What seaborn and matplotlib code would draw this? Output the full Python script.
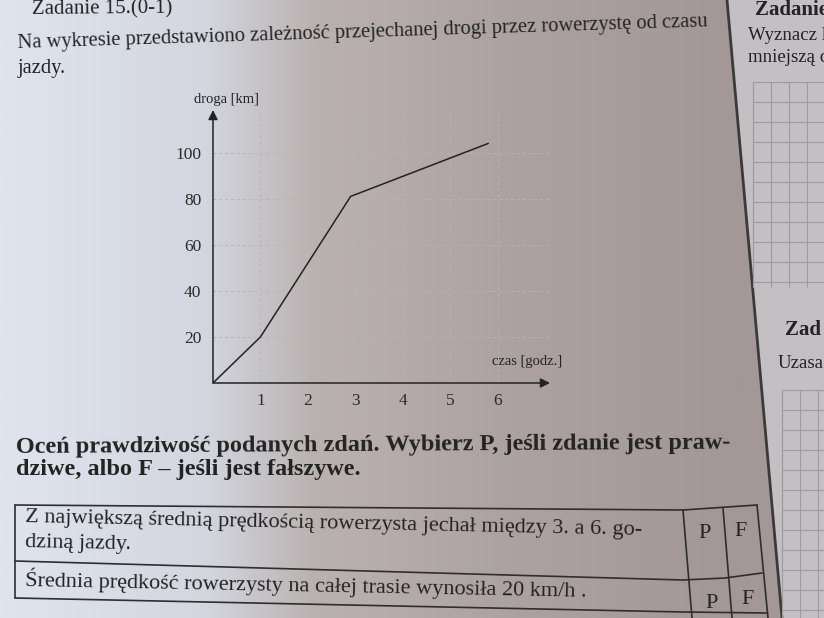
import numpy as np
import seaborn as sns
import matplotlib.pyplot as plt
from matplotlib.colors import LinearSegmentedColormap
from matplotlib.patches import Polygon

# values
czas = [0, 1, 2.9, 5.8]          # godz.
droga = [0, 20, 81, 104]         # km
x_ticks = [1, 2, 3, 4, 5, 6]
y_ticks = [20, 40, 60, 80, 100]

W, H = 824, 618
SERIF = ['Liberation Serif', 'DejaVu Serif']
INK = '#232323'
RULE = '#2e2e2e'


def fx(px):
    return px / W


def fy(py):
    return 1 - py / H


def rule(pts, lw=1.2, color=RULE):
    # a line on the page given in pixel coords
    xs = [fx(p[0]) for p in pts]
    ys = [fy(p[1]) for p in pts]
    fig.add_artist(plt.Line2D(xs, ys, color=color, lw=lw))


def txt(x, y, s, size, rot=0, **kw):
    fig.text(fx(x), fy(y), s, fontsize=size, ha=kw.pop('ha', 'left'), va='center',
             color=INK, rotation=rot, rotation_mode='anchor', **kw)


sns.set_theme(style='white')
plt.rcParams['font.family'] = SERIF

fig = plt.figure(figsize=(W / 100, H / 100), dpi=100)

# page background (photo lighting)
bg = fig.add_axes([0, 0, 1, 1], zorder=-5)
paper = LinearSegmentedColormap.from_list('paper', [
    (0.00, '#dfe4ee'), (0.25, '#d3d6df'), (0.38, '#bab2b1'),
    (0.60, '#aea3a3'), (0.88, '#a39798'), (1.00, '#a39798')])
bg.imshow(np.linspace(0, 1, 512)[None, :], cmap=paper, aspect='auto', extent=[0, 1, 0, 1])
bg.set_xlim(0, 1)
bg.set_ylim(0, 1)
bg.add_patch(Polygon([(fx(727), 1), (1, 1), (1, 0), (fx(782), 0)], closed=True,
                     facecolor='#c3bfc3', edgecolor='none'))
bg.set_axis_off()

# --- chart ---
ax = fig.add_axes([fx(213), fy(383), fx(550 - 213), (383 - 110) / H])
ax.patch.set_alpha(0)
sns.lineplot(x=czas, y=droga, ax=ax, color=INK, linewidth=1.1)
ax.set_xlim(0, 7.1)
ax.set_ylim(0, 118.5)
ax.set_xticks(x_ticks)
ax.set_yticks(y_ticks)
ax.set_xticklabels([str(t) for t in x_ticks])
ax.set_yticklabels([str(t) for t in y_ticks])
ax.grid(True, color='#b9b3b3', linestyle=(0, (3, 3)), linewidth=0.7)
for s in ax.spines.values():
    s.set_visible(False)
ax.tick_params(axis='both', direction='inout', length=7, width=0.9, color=INK,
               labelsize=12.5, labelcolor='#2b2b2b')
ax.tick_params(axis='x', pad=4)
ax.tick_params(axis='y', pad=5)
ax.set_xlabel('')
ax.set_ylabel('')
arrow = dict(arrowstyle='-|>', color=INK, lw=1.1, mutation_scale=14, shrinkA=0, shrinkB=0)
ax.annotate('', xy=(1, 0), xytext=(0, 0), xycoords='axes fraction', arrowprops=arrow)
ax.annotate('', xy=(0, 1), xytext=(0, 0), xycoords='axes fraction', arrowprops=arrow)
fig.text(fx(227), fy(99), 'droga [km]', fontsize=10.5, ha='center', va='center', color=INK)
fig.text(fx(527), fy(361), 'czas [godz.]', fontsize=10.5, ha='center', va='center', color=INK)

# --- page text ---
txt(32, 10, 'Zadanie 15.(0-1)', 15, rot=0.5)
txt(18, 44, 'Na wykresie przedstawiono zależność przejechanej drogi przez rowerzystę od czasu',
    14.8, rot=1.8)
txt(18, 68, 'jazdy.', 14.8)

txt(16, 448, 'Oceń prawdziwość podanych zdań. Wybierz P, jeśli zdanie jest praw-',
    17.5, rot=0.35, fontweight='bold')
txt(16, 470, 'dziwe, albo F – jeśli jest fałszywe.', 17.5, fontweight='bold')

# table with the two statements (page is slightly curled)
rule([(15, 505), (683, 510), (757, 505)])
rule([(15, 561), (683, 580), (725, 578), (762, 573)])
rule([(15, 598), (683, 612), (767, 613)])
rule([(15, 505), (15, 598)])
rule([(683, 510), (692, 618)])
rule([(723, 508), (732, 618)])
rule([(757, 505), (768, 618)])
txt(25, 518, 'Z największą średnią prędkością rowerzysta jechał między 3. a 6. go-', 16, rot=-1.2)
txt(25, 543, 'dziną jazdy.', 16, rot=-1.2)
txt(25, 579, 'Średnia prędkość rowerzysty na całej trasie wynosiła 20 km/h .', 16, rot=-1.1)
for px, py, s in ((705, 533, 'P'), (741, 531, 'F'), (712, 603, 'P'), (748, 600, 'F')):
    txt(px, py, s, 16, ha='center')

# --- next column of the page ---
rule([(727, 0), (782, 618)], lw=2, color='#3a3a3a')
txt(755, 10, 'Zadanie', 15, fontweight='bold')
txt(748, 36, 'Wyznacz l', 13.5)
txt(748, 58, 'mniejszą c', 13.5)
txt(785, 330, 'Zad', 15, fontweight='bold')
txt(778, 363, 'Uzasa', 13.5)
for top, bottom, left in ((82, 287, 753), (390, 618, 782)):
    for yy in range(top, bottom + 1, 20):
        rule([(left, yy), (W, yy)], lw=0.8, color='#a09a9e')
    for xx in range(left, W, 18):
        rule([(xx, top), (xx, bottom)], lw=0.8, color='#a09a9e')

fig.savefig('out.png', dpi=100)
